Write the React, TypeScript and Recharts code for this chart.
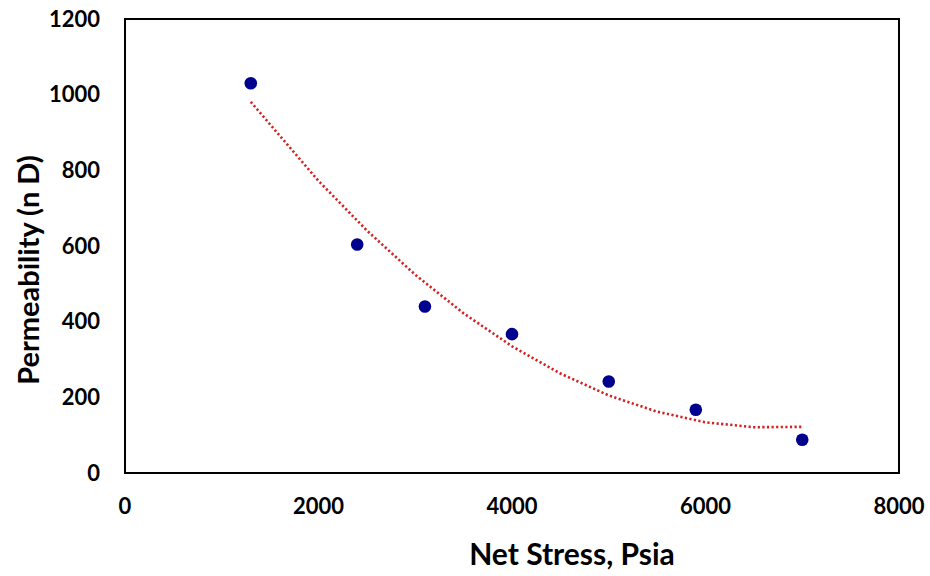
import { ScatterChart, Scatter, XAxis, YAxis, ReferenceArea, Label } from 'recharts'

// measured points
const stress = [1300, 2400, 3100, 4000, 5000, 5900, 7000]
const permeability = [1030, 604, 440, 367, 242, 167, 88]

// dotted trend line
const trendStress = [1300, 2000, 2500, 3000, 3500, 4000, 4500, 5000, 5500, 6000, 6500, 7000]
const trendPerm = [981, 772, 641, 524, 422, 335, 263, 205, 162, 134, 121, 122]

const xTicks = [0, 2000, 4000, 6000, 8000]
const yTicks = [0, 200, 400, 600, 800, 1000, 1200]

const points = stress.map((x, i) => ({ x, y: permeability[i] }))
const trend = trendStress.map((x, i) => ({ x, y: trendPerm[i] }))

const font = 'Lato, "Open Sans", sans-serif'
const tickStyle = { fill: '#000', fontSize: 22, fontWeight: 700, fontFamily: font }
const titleStyle = { fill: '#000', fontSize: 30, fontWeight: 700, fontFamily: font }

const Dot = (props: any) => <circle cx={props.cx} cy={props.cy} r={6.3} fill='#00008f' />

// titles sit a bit off-centre in the original
const XTitle = ({ viewBox }: any) => (
  <text x={viewBox.x + viewBox.width / 2 + 60} y={viewBox.y + 92} textAnchor='middle' style={titleStyle}>
    Net Stress, Psia
  </text>
)

const YTitle = ({ viewBox }: any) => {
  const x = 27
  const y = viewBox.y + viewBox.height / 2 + 24
  return (
    <text
      x={x}
      y={y}
      textAnchor='middle'
      dominantBaseline='central'
      transform={`rotate(-90, ${x}, ${y})`}
      style={{ ...titleStyle, fontSize: 29 }}
    >
      Permeability (n D)
    </text>
  )
}

export default function App() {
  return (
    <div style={{ position: 'absolute', left: 0, top: 0, background: '#fff' }}>
      <ScatterChart width={930} height={576} margin={{ top: 19, right: 31, left: 55, bottom: 53 }}>
        <XAxis
          type='number'
          dataKey='x'
          domain={[0, 8000]}
          ticks={xTicks}
          axisLine={false}
          tickLine={false}
          tickSize={0}
          tickMargin={25}
          height={50}
          tick={tickStyle}
        >
          <Label content={XTitle} />
        </XAxis>
        <YAxis
          type='number'
          dataKey='y'
          domain={[0, 1200]}
          ticks={yTicks}
          axisLine={false}
          tickLine={false}
          tickSize={0}
          tickMargin={25}
          width={70}
          tick={tickStyle}
        >
          <Label content={YTitle} />
        </YAxis>
        <ReferenceArea x1={0} x2={8000} y1={0} y2={1200} fill='none' stroke='#000' strokeWidth={2} fillOpacity={0} />
        <Scatter
          data={trend}
          line={{ stroke: '#d42020', strokeWidth: 2.6, strokeDasharray: '2.2 2.4' }}
          lineType='joint'
          shape={() => null}
          isAnimationActive={false}
        />
        <Scatter data={points} shape={Dot} isAnimationActive={false} />
      </ScatterChart>
    </div>
  )
}
